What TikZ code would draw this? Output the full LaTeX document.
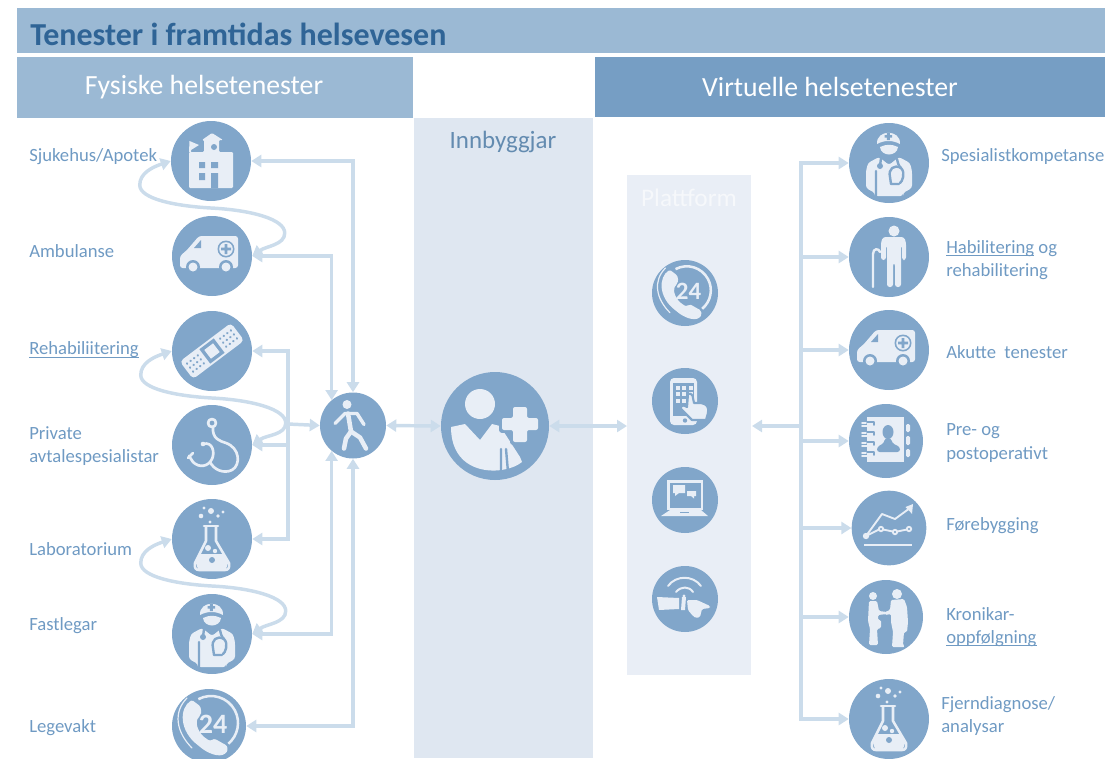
\documentclass[tikz,border=0pt]{standalone}
\usepackage{fontspec}
\setmainfont{Carlito}
\usetikzlibrary{arrows.meta}
\definecolor{ic}{HTML}{81A6CA}
\definecolor{lt}{HTML}{E8EEF6}
\definecolor{cn}{HTML}{CBDCEB}
\definecolor{lb}{HTML}{6F9AC3}
\definecolor{ttl}{HTML}{2F6496}
\definecolor{barA}{HTML}{9BB9D4}
\definecolor{barB}{HTML}{769EC4}
\definecolor{colA}{HTML}{DFE7F1}
\definecolor{colB}{HTML}{E9EEF6}
\tikzset{
  x=.75pt,y=-.75pt,
  circ/.style={circle,fill=ic,inner sep=0pt,minimum size=#1},
  lbl/.style={anchor=west,align=left,text=lb,font=\fontsize{14pt}{17.6pt}\selectfont,inner sep=0pt},
  band/.style={fill=#1,draw=none},
  head/.style={anchor=center,text=white,font=\fontsize{20.8pt}{24pt}\selectfont,inner sep=0pt},
  cnx/.style={draw=cn,line width=2.6pt,line join=miter},
  both/.style={cnx,{Triangle[length=7.5pt,width=9pt]}-{Triangle[length=7.5pt,width=9pt]}},
  tip/.style={cnx,-{Triangle[length=7.5pt,width=9pt]}},
  lin/.style={draw=lt,line cap=round,line join=round,line width=#1},
  dlin/.style={draw=ic,line cap=round,line join=round,line width=#1},
}
\newcommand\squ[1]{\setbox0\hbox{#1}\rlap{\rule[-1.8pt]{\wd0}{0.5pt}}\box0\relax}
\newcommand\place[3]{\begin{scope}[shift={(#1.center)},scale=#3]#2\end{scope}}
\newcommand\swirl[2]{\draw[both] (#1.west) .. controls +(-18,6) and +(0,-12) .. ++(-31,24)
  .. controls +(0,14) and +(-35,-2) .. ++(71,23)
  .. controls +(40,2) and +(0,-14) .. ++(74,25)
  .. controls +(0,12) and +(14,-10) .. (#2.east);}
\newcommand\icHospital{%
  \fill[lt,rounded corners=.8pt] (-22,-9)--(-7,-9)--(-7,-21)--(-9,-21)--(1,-28)--(12,-21)--(8,-21)--(8,-9)--(22,-9)--(22,27)--(-22,27)--cycle;
  \fill[lt] (-21.5,-20)--(-12,-16)--(-20,-11)--(-20,-9)--(-22,-9)--cycle;
  \fill[ic] (3,-14) circle (3);
  \fill[ic] (-12,1) rectangle (-6,7) (0,1) rectangle (7,7) (-12,12) rectangle (-6,19) (0,12) rectangle (7,27);}
\newcommand\icAmbulance{%
  \fill[lt,rounded corners=2pt] (26,-20)--(-13,-20)--(-25,-6)--(-32,0)--(-32,12)--(26,12)--cycle;
  \fill[ic] (-18,-8)--(-11,-16)--(-11,-8)--cycle;
  \fill[ic] (-19,11) circle (7) (14,11) circle (7);
  \fill[lt] (-19,11) circle (4.5) (14,11) circle (4.5);
  \fill[ic] (14,-7) circle (8.5);
  \fill[lt] (14,-7) circle (6.8);
  \fill[ic] (12.6,-12) rectangle (15.4,-2) (9,-8.4) rectangle (19,-5.6);}
\newcommand\icBandage{%
  \begin{scope}[rotate=37]
  \fill[lt,rounded corners=3pt] (-32,-11) rectangle (32,11);
  \fill[ic] (-9,-9) rectangle (9,9);
  \fill[lt] (-5.5,-5.5) rectangle (5.5,5.5);
  \foreach \px in {14,18.5,23,27.5}{\foreach \py in {-5,0,5}{
    \fill[ic] (\px,\py) circle (1.3) (-\px,\py) circle (1.3);}}
  \end{scope}}
\newcommand\icSteth{%
  \draw[lin=2pt] (0,-22) circle (4);
  \draw[lin=2pt] (1,-18) .. controls (0,-6) and (8,-4) .. (14,-2) .. controls (28,3) and (29,20) .. (20,25) .. controls (12,29) and (2,25) .. (-2,17);
  \draw[lin=2pt] (-9,-1) .. controls (1,-4) and (3,8) .. (0,14) .. controls (-4,22) and (-13,23) .. (-19,17);
  \draw[lin=2pt] (-9,-1) circle (1.2) (-23,11) -- (-19,17) (-19,8)--(-24,13);}
\newcommand\icFlask{%
  \fill[lt] (-12.5,15) -- (12.5,15) -- (16,24) -- (14,30) -- (-14,30) -- (-16,24) -- cycle;
  \draw[lin=1.9pt] (-8,-13)--(6,-13);
  \draw[lin=1.9pt] (-6,-12)--(-6,2)--(-17,24) .. controls (-18,29) and (-16,31) .. (-13,31) -- (13,31) .. controls (16,31) and (18,29) .. (17,24) -- (4,2)--(4,-12);
  \fill[lt] (-4,9) circle (3) (3,12) circle (2.2);
  \fill[ic] (0,21) circle (3);
  \fill[lt] (-1,-28) circle (3) (-11,-23) circle (2.3) (6,-23) circle (1.9) (11,-27) circle (1.6) (-8,-31) circle (1.6) (-2,-17) circle (1.7);}
\newcommand\icDoctor{%
  \fill[lt] (-12,-19) .. controls (-13,-34) and (12,-34) .. (11,-19) .. controls (4,-23) and (-5,-23) .. cycle;
  \fill[ic] (-2.2,-30) rectangle (.8,-23) (-4.5,-28) rectangle (3,-25.5);
  \fill[lt] (-9,-16) .. controls (-8,-6) and (8,-6) .. (9,-16) .. controls (3,-19) and (-3,-19) .. cycle;
  \fill[lt,rounded corners=2pt] (-10,-6)--(-21,0)--(-23,8)--(-23,25)--(-14,30)--(-14,33)--(14,33)--(14,30)--(23,25)--(23,8)--(21,0)--(10,-6)--(0,2)--cycle;
  \draw[dlin=1.8pt] (-13,8)--(-13,33) (-8,-5)--(-9,3);
  \fill[ic] (-9,3) circle (3);
  \draw[dlin=1.8pt] (8,-4) .. controls (9,0) and (9,2) .. (12,5) .. controls (17,10) and (13,19) .. (11,20);
  \draw[dlin=1.8pt] (12,5) .. controls (5,1) and (-1,6) .. (1,14) -- (2,21) -- (10,21);
  }
\newcommand\icPhone{%
  \draw[lin=1.9pt,line cap=butt] (2,-3) +(-118:27) arc[start angle=-118,end angle=50,radius=27];
  \node[transform shape,text=lt,inner sep=0pt,font=\fontsize{21pt}{21pt}\selectfont\bfseries] at (4,-2) {24};
  \draw[lin=.9pt] (-22,-28) .. controls (-36,-14) and (-33,6) .. (-17,22);
  \fill[lt,rounded corners=1pt] (-17,-26) .. controls (-30,-18) and (-30,5) .. (-10,20) .. controls (-2,27) and (10,32) .. (17,27) .. controls (19,24) and (19,20) .. (15,18) -- (8,14) .. controls (4,12) and (2,16) .. (-2,13) .. controls (-10,8) and (-14,-2) .. (-11,-8) .. controls (-8,-11) and (-7,-14) .. (-9,-20) -- cycle;}
\newcommand\icWalker{%
  \fill[lt] (-6,-21) circle (4.5);
  \draw[lin=2.6pt] (-18,-2)--(-8,-12)--(4,-12)--(11,-1);
  \draw[lin=3.4pt] (-5,-12)--(-2,6)--(-7,13)--(-9,23);
  \draw[lin=3.4pt] (-2,6)--(7,12)--(13,23);}
\newcommand\icPatient{%
  \fill[lt] (-15,-22) circle (15);
  \fill[lt] (-44,1)--(-30,-2)--(-15,14)--(-3,-2)--(5,0)--(25,31)--(27,36) .. controls (10,50) and (-44,52) .. cycle;
  \draw[dlin=1.8pt] (6,23)--(6,48) (11,23)--(13,46);
  \draw[draw=ic,line width=4pt,line join=round] (18,-19)--(32,-19)--(32,-8)--(43,-8)--(43,4)--(32,4)--(32,16)--(18,16)--(18,4)--(7,4)--(7,-8)--(18,-8)--cycle;
  \fill[lt,rounded corners=1.5pt] (18,-19)--(32,-19)--(32,-8)--(43,-8)--(43,4)--(32,4)--(32,16)--(18,16)--(18,4)--(7,4)--(7,-8)--(18,-8)--cycle;}
\newcommand\icTablet{%
  \fill[lt,rounded corners=3pt] (-15,-23) rectangle (12,24);
  \fill[ic] (-12,-18) rectangle (9,15);
  \fill[ic] (0,19.5) circle (2.2);
  \foreach \px in {-9,-3,4}{\foreach \py in {-15,-9,-2}{\fill[lt] (\px,\py) rectangle +(4,4);}}
  \draw[draw=ic,line width=1.6pt,line join=round,fill=lt] (3,-7) .. controls (6,-8) and (8,-6) .. (8,-3) -- (9,2) -- (16,2) .. controls (22,3) and (24,6) .. (23,12) -- (21,19) -- (7,19) -- (-4,8) .. controls (-5,5) and (-2,3) .. (2,6) -- (3,-7);}
\newcommand\icLaptop{%
  \fill[lt] (-18,-20) rectangle (18,10);
  \fill[ic] (-15.5,-17.5) rectangle (15.5,7.5);
  \fill[lt] (-12,-15) rectangle (0,-7) (-10,-7)--(-6,-7)--(-10,-4)--cycle;
  \fill[lt] (2,-9) rectangle (11,-4) (6,-4)--(9,-4)--(9,-1.5)--cycle;
  \fill[lt] (-24,16)--(-15,10)--(16,10)--(23,16)--cycle;
  \fill[ic] (-5,12) rectangle (4,13.2);}
\newcommand\icWear{%
  \draw[lin=1.5pt] (-17,-13) .. controls (-9,-24) and (8,-24) .. (16,-13);
  \draw[lin=1.5pt] (-9,-7) .. controls (-4,-13) and (4,-13) .. (8,-7);
  \fill[lt] (-1,-3) circle (1.6);
  \fill[lt] (-28,-2)--(-6,-1)--(-6,10)--(-26,11)--cycle;
  \fill[lt] (-3,-2)--(1,-2)--(0,11)--(-4,11)--cycle;
  \fill[lt,rounded corners=1pt] (2,1)--(12,1)--(25,7)--(25,9)--(17,10)--(15,18)--(11,19)--(8,17)--(3,11)--cycle;}
\newcommand\icElder{%
  \fill[lt] (5,-26) circle (5.5);
  \fill[lt,rounded corners=2pt] (-6,-20)--(15,-20)--(17,-15)--(17,3)--(13,3)--(13,-12)--(12,-12)--(12,30)--(6,30)--(6,6)--(4,6)--(4,30)--(-2,30)--(-2,-12)--(-3,-12)--(-3,3)--(-8,3)--(-8,-15)--cycle;
  \draw[lin=1.8pt] (-16,30)--(-16,-3) .. controls (-16,-9) and (-10,-9) .. (-9,-5);}
\newcommand\icBook{%
  \fill[lt] (-19,-24) rectangle (18,21);
  \fill[lt,rounded corners=1pt] (20,-17) rectangle (24,-9) (20,-5) rectangle (24,4) (20,8) rectangle (24,16);
  \fill[ic] (2,-9) ellipse (5.5 and 7);
  \fill[ic,rounded corners=2pt] (-1,-3)--(5,-3)--(6,2)--(14,6)--(14,11)--(-9,11)--(-9,6)--(-2,2)--cycle;
  \foreach \ry in {-19,-9,1,11}{\draw[dlin=1.2pt] (-20,\ry) -- (-12,\ry) -- (-12,\ry+3);
    \draw[lin=1.2pt] (-24,\ry+1)--(-20,\ry+1) (-24,\ry+4)--(-19,\ry+4);}
  }
\newcommand\icChart{%
  \draw[lin=1.4pt] (-23,8)--(-7,-14)--(6,-9)--(21,-20);
  \fill[lt] (24,-24)--(23,-14)--(20,-17.5)--(16.5,-21)--cycle;
  \draw[lin=1.4pt] (-23,8)--(-10,1.5) (-6,1.5)--(4,3.5) (8,3.5)--(18,1.5);
  \fill[lt] (-23,8) circle (3.2);
  \draw[lin=1.4pt] (-8,1) circle (2.2) (6,4) circle (2.2) (20,1) circle (2.2);
  \draw[lin=1.6pt,line cap=butt] (-25,17)--(23,17);}
\newcommand\icShake{%
  \fill[lt] (-13,-21) circle (4) (11,-23) circle (5);
  \fill[lt,rounded corners=1pt] (-17,-16)--(-9,-16)--(-7,-6)--(1,-5)--(1,-3)--(-8,-2)--(-8,3)--(-5,3)--(-5,11)--(-9,12)--(-8,28)--(-17,28)--(-16,12)--(-18,4)--cycle;
  \fill[lt,rounded corners=1pt] (5,-17)--(18,-18)--(21,-10)--(22,5)--(21,15)--(18,15)--(17,28)--(19,30)--(6,30)--(7,15)--(5,5)--(5,-3)--(-1,-2)--(-1,-5)--(4,-7)--cycle;}
\begin{document}
\begin{tikzpicture}
\useasboundingbox (0,0) rectangle (1118,758);
% bands
\fill[barA] (17,8) rectangle (1105,53);
\fill[barA] (17,57) rectangle (413,118);
\fill[barB] (595,57) rectangle (1105,117);
\fill[colA] (414,118) rectangle (593,758);
\fill[colB] (627,175) rectangle (751,675);
\node[anchor=west,inner sep=0pt,text=ttl,font=\fontsize{24pt}{28pt}\selectfont\bfseries] (title) at (30,34) {Tenester i framtidas helsevesen};
\node[head] (hl) at (204,87) {Fysiske helsetenester};
\node[head] (hr) at (830,87) {Virtuelle helsetenester};
\node[anchor=center,inner sep=0pt,text=ttl!75,font=\fontsize{18.7pt}{22pt}\selectfont] (inn) at (503,142) {Innbyggjar};
\node[anchor=center,inner sep=0pt,text=white!60!colB,font=\fontsize{19pt}{22pt}\selectfont] (pla) at (689,198) {Plattform};
% circles
\node[circ=60pt] (c1) at (211,161) {};
\node[circ=60pt] (c2) at (212,256) {};
\node[circ=60pt] (c3) at (212,351) {};
\node[circ=60pt] (c4) at (212,445) {};
\node[circ=60pt] (c5) at (212,539) {};
\node[circ=60pt] (c6) at (212,634) {};
\node[circ=55.5pt] (c7) at (209,726) {};
\node[circ=49.5pt] (w) at (353,425.5) {};
\node[circ=81pt] (p) at (495,426) {};
\node[circ=49.5pt] (f1) at (685,293) {};
\node[circ=49.5pt] (f2) at (685,401) {};
\node[circ=49.5pt] (f3) at (685,500) {};
\node[circ=49.5pt] (f4) at (685,599) {};
\node[circ=60pt] (r1) at (889,163) {};
\node[circ=60pt] (r2) at (889,257) {};
\node[circ=60pt] (r3) at (889,350) {};
\node[circ=55.5pt] (r4) at (886,441) {};
\node[circ=56pt] (r5) at (889,528) {};
\node[circ=55.5pt] (r6) at (886,617) {};
\node[circ=60pt] (r7) at (889,719) {};
% icons
\place{c1}{\icHospital}{1}
\place{c2}{\icAmbulance}{1}
\place{c3}{\icBandage}{1}
\place{c4}{\icSteth}{1}
\place{c5}{\icFlask}{1}
\place{c6}{\icDoctor}{1}
\place{c7}{\icPhone}{1}
\place{w}{\icWalker}{1}
\place{p}{\icPatient}{1}
\place{f1}{\icPhone}{.89}
\place{f2}{\icTablet}{1}
\place{f3}{\icLaptop}{1}
\place{f4}{\icWear}{1}
\place{r1}{\icDoctor}{1}
\place{r2}{\icElder}{1}
\place{r3}{\icAmbulance}{1}
\place{r4}{\icBook}{1}
\place{r5}{\icChart}{1}
\place{r6}{\icShake}{1}
\place{r7}{\icFlask}{1}
% connectors left
\coordinate (lb) at (288,424);
\coordinate (rb) at (801,426);
\draw[both] (c1.east) -| (w.north);
\draw[both] (c2.east) -| (w.130);
\draw[both] (c6.east) -| (w.230);
\draw[both] (c7.east) -| (w.south);
\draw[tip] (lb |- c3.east) -- (c3.east);
\draw[tip] (lb |- c4.east) -- (c4.east);
\draw[tip] (lb |- c5.east) -- (c5.east);
\draw[cnx,line cap=rect] (lb |- c3.east) -- (lb |- c5.east);
\draw[tip] (lb) -- (w.west);
\swirl{c1}{c2}
\swirl{c3}{c4}
\swirl{c5}{c6}
% connectors middle
\draw[both] (w.east) -- (p.west);
\draw[both] (p.east) -- (627,426);
% connectors right
\draw[cnx,line width=3pt,line cap=rect] (rb |- r1.west) -- (rb |- r7.west);
\draw[cnx,line width=3pt,-{Triangle[length=7.5pt,width=9pt]}] (rb) -- (752,426);
\foreach \n in {r1,r2,r3,r4,r5,r6,r7}{\draw[tip] (rb |- \n.west) -- (\n.west);}
% labels
\node[lbl] (l1) at (29,157) {Sjukehus/Apotek};
\node[lbl] (l2) at (29,251) {Ambulanse};
\node[lbl] (l3) at (29,350) {\squ{Rehabiliitering}};
\node[lbl] (l4) at (29,446) {Private\\avtalespesialistar};
\node[lbl] (l5) at (29,549) {Laboratorium};
\node[lbl] (l6) at (29,626) {Fastlegar};
\node[lbl] (l7) at (29,728) {Legevakt};
\node[lbl] (t1) at (941,157) {Spesialistkompetanse};
\node[lbl] (t2) at (946,260) {\squ{Habilitering} og\\rehabilitering};
\node[lbl] (t3) at (946,352) {Akutte\ \ tenester};
\node[lbl] (t4) at (946,443) {Pre- og\\postoperativt};
\node[lbl] (t5) at (946,526) {Førebygging};
\node[lbl] (t6) at (946,627) {Kronikar-\\\squ{oppfølgning}};
\node[lbl] (t7) at (941,716) {Fjerndiagnose/\\analysar};
\end{tikzpicture}
\end{document}
